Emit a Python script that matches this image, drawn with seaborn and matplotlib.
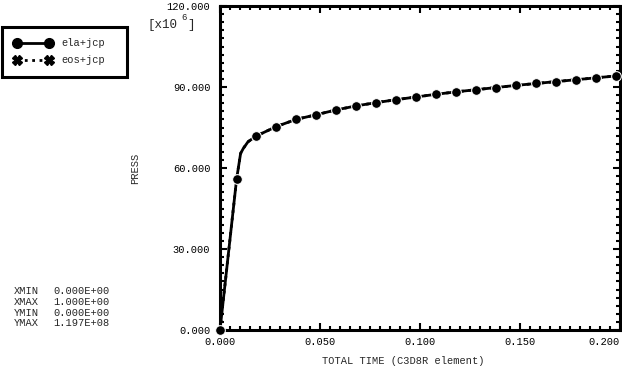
import matplotlib
matplotlib.use('Agg')
import matplotlib.pyplot as plt
import seaborn as sns
from matplotlib.lines import Line2D
from matplotlib.ticker import MultipleLocator, FormatStrFormatter

# total time and pressure (units of 1e6)
time = [0.0, 0.0083, 0.0103, 0.0117, 0.014, 0.018, 0.028, 0.038, 0.048, 0.058,
        0.068, 0.078, 0.088, 0.098, 0.108, 0.118, 0.128, 0.138, 0.148, 0.158,
        0.168, 0.178, 0.188, 0.198, 0.2]
press_ela = [0.0, 55.9, 65.4, 67.3, 69.7, 71.8, 75.3, 78.0, 79.7, 81.5,
             83.0, 84.2, 85.3, 86.3, 87.3, 88.2, 89.0, 89.8, 90.6, 91.3,
             92.0, 92.7, 93.4, 94.1, 94.3]
# eos+jcp curve lies underneath the ela+jcp one
press_eos = press_ela
marker_idx = [0, 1] + list(range(5, 24))

series_labels = ['ela+jcp', 'eos+jcp']
info_labels = ['XMIN', 'XMAX', 'YMIN', 'YMAX']
info_values = ['0.000E+00', '1.000E+00', '0.000E+00', '1.197E+08']

sns.set_style('ticks')
plt.rcParams['font.family'] = ['Liberation Mono', 'DejaVu Sans Mono']

W, H = 622, 368


def fx(x):
    return x / W


def fy(y):
    return 1 - y / H


fig = plt.figure(figsize=(W / 100, H / 100), dpi=100)
ax = fig.add_axes([fx(220), fy(330), 400 / W, 324 / H])

sns.lineplot(x=time, y=press_eos, ax=ax, color='black', lw=2, ls=':',
             marker='X', markersize=6, markevery=marker_idx, sort=False,
             estimator=None, zorder=2)
sns.lineplot(x=time, y=press_ela, ax=ax, color='black', lw=2,
             marker='o', markersize=7, markevery=marker_idx, sort=False,
             estimator=None, zorder=3, clip_on=False)

ax.set_xlim(0, 0.2)
ax.set_ylim(0, 120)
ax.xaxis.set_major_locator(MultipleLocator(0.05))
ax.xaxis.set_minor_locator(MultipleLocator(0.005))
ax.yaxis.set_major_locator(MultipleLocator(30))
ax.yaxis.set_minor_locator(MultipleLocator(3))
ax.xaxis.set_major_formatter(FormatStrFormatter('%.3f'))
ax.yaxis.set_major_formatter(FormatStrFormatter('%.3f'))

for s in ax.spines.values():
    s.set_linewidth(2.2)
    s.set_color('black')
ax.tick_params(which='both', direction='in', top=True, right=True,
               width=1.5, colors='black', labelsize=7.5)
ax.tick_params(which='major', length=5)
ax.tick_params(which='minor', length=2.8)
ax.tick_params(axis='y', which='major', pad=7)
ax.tick_params(axis='x', which='major', pad=5)

ax.set_xlabel('TOTAL TIME (C3D8R element)', fontsize=7.5)
ax.xaxis.set_label_coords(0.4575, -0.08)
ax.set_ylabel('PRESS', fontsize=7.5, va='center')
ax.yaxis.set_label_coords(-0.2125, 0.5)

# last x tick label sits against the figure edge
fig.canvas.draw()
for lbl in ax.get_xticklabels():
    if lbl.get_text() == '0.200':
        lbl.set_ha('right')
        lbl.set_x(0.2)

# multiplier note above the y axis
fig.text(fx(147), fy(25), '[x10', fontsize=9, va='center', ha='left')
fig.text(fx(181), fy(17), '6', fontsize=6.5, va='center', ha='left')
fig.text(fx(187), fy(25), ']', fontsize=9, va='center', ha='left')

handles = [
    Line2D([0], [0], color='black', lw=2, marker='o', markersize=7),
    Line2D([0], [0], color='black', lw=2, ls=':', marker='X', markersize=7),
]
leg = fig.legend(handles, series_labels, loc='upper left',
                 bbox_to_anchor=(fx(2), fy(76), 125 / W, 49 / H),
                 mode='expand', numpoints=2, handlelength=3.7,
                 handletextpad=0.9, labelspacing=0.65, borderpad=1.1,
                 borderaxespad=0, fontsize=7.5, frameon=True, fancybox=False,
                 framealpha=1, edgecolor='black')
leg.get_frame().set_linewidth(2.2)

info_y = [291, 302, 313, 323]
for lab, val, yy in zip(info_labels, info_values, info_y):
    fig.text(fx(14), fy(yy), lab, fontsize=7.5, va='center', ha='left')
    fig.text(fx(53), fy(yy), val, fontsize=7.5, va='center', ha='left')

fig.savefig('out.png', dpi=100)
